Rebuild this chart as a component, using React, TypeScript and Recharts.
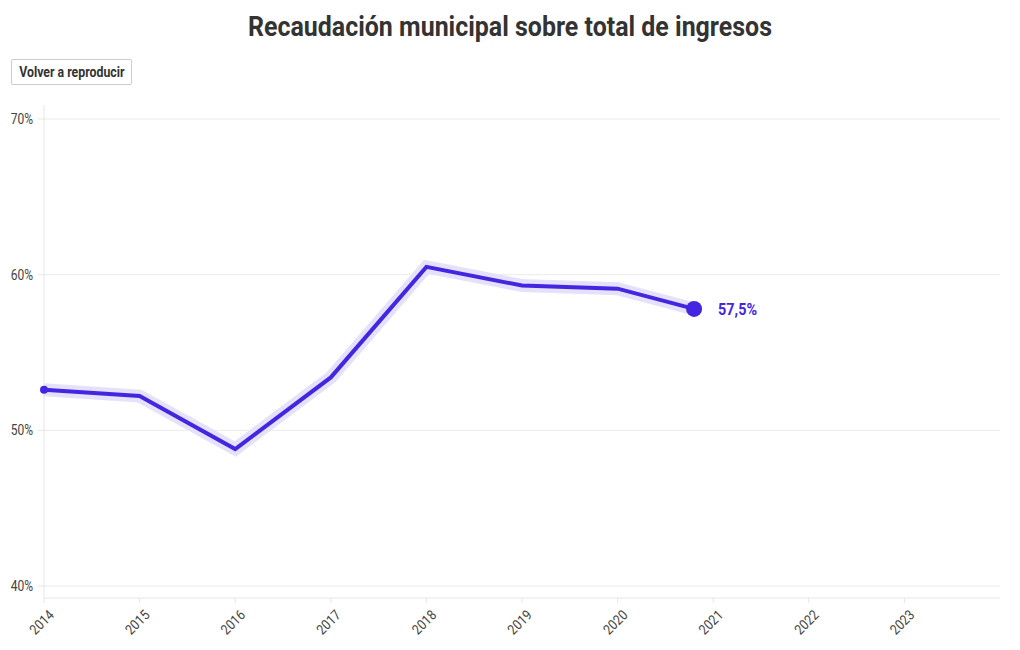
import { LineChart, Line, XAxis, YAxis, ReferenceLine } from 'recharts'

const years = [2014, 2015, 2016, 2017, 2018, 2019, 2020, 2020.8]
const shares = [52.6, 52.2, 48.8, 53.4, 60.5, 59.3, 59.1, 57.8]
const xTicks = [2014, 2015, 2016, 2017, 2018, 2019, 2020, 2021, 2022, 2023]
const yTicks = [40, 50, 60, 70]
const lastLabel = '57,5%'

const data = years.map((y, i) => ({ year: y, share: shares[i] }))

const FONT = 'Roboto, sans-serif'
const SQUEEZE = 0.86
const LINE = '#4526e0'
const HALO = '#e6e1fa'
const GRID = '#ebebeb'

function XTick(props: any) {
  const { x, y, payload } = props
  return (
    <g transform={`translate(${x + 4},${y + 4})`}>
      <text
        textAnchor="end"
        transform={`rotate(-45) scale(0.88,1)`}
        dy="0.7em"
        fill="#444"
        fontSize={14}
        fontFamily={FONT}
      >
        {payload.value}
      </text>
    </g>
  )
}

function YTick(props: any) {
  const { x, y, payload } = props
  return (
    <g transform={`translate(${x},${y})`}>
      <text textAnchor="end" transform={`scale(${SQUEEZE},1)`} dy="0.35em" fill="#444" fontSize={14} fontFamily={FONT}>
        {payload.value}%
      </text>
    </g>
  )
}

function EndDot(props: any) {
  const { cx, cy, index } = props
  if (index === 0) return <circle key="d0" cx={cx} cy={cy} r={4} fill={LINE} />
  if (index === data.length - 1)
    return (
      <g key="dlast">
        <circle cx={cx} cy={cy} r={8} fill={LINE} />
        <g transform={`translate(${cx + 24},${cy + 6})`}>
          <text transform="scale(0.9,1)" fill={LINE} fontSize={16} fontWeight="bold" fontFamily={FONT}>
            {lastLabel}
          </text>
        </g>
      </g>
    )
  return <g key={`d${index}`} />
}

export default function App() {
  return (
    <div style={{ position: 'relative', width: 1020, height: 650, margin: -8, background: '#fff' }}>
      <div
        style={{
          position: 'absolute',
          top: 11,
          left: 0,
          width: 1020,
          textAlign: 'center',
          fontFamily: FONT,
          fontWeight: 'bold',
          fontSize: 27,
          lineHeight: 'normal',
          color: '#333',
          transform: 'scaleX(0.924)',
        }}
      >
        Recaudación municipal sobre total de ingresos
      </div>
      <div
        style={{
          position: 'absolute',
          top: 59,
          left: 11,
          width: 119,
          height: 24,
          border: '1px solid #ccc',
          borderRadius: 2,
          display: 'flex',
          alignItems: 'center',
          justifyContent: 'center',
        }}
      >
        <span
          style={{
            fontFamily: FONT,
            fontWeight: 'bold',
            fontSize: 14,
            color: '#333',
            whiteSpace: 'nowrap',
            transform: 'scaleX(0.88)',
          }}
        >
          Volver a reproducir
        </span>
      </div>
      <div style={{ position: 'absolute', top: 0, left: 0 }}>
        <LineChart width={1020} height={650} data={data} margin={{ top: 105, right: 20, bottom: 0, left: 0 }}>
          {yTicks.map((t) => (
            <ReferenceLine key={t} y={t} stroke={GRID} />
          ))}
          <XAxis
            dataKey="year"
            type="number"
            domain={[2014, 2024]}
            ticks={xTicks}
            allowDecimals={false}
            height={52}
            stroke="#e6e6e6"
            tickSize={5}
            tick={<XTick />}
          />
          <YAxis
            type="number"
            domain={[40, 70]}
            ticks={yTicks}
            width={44}
            padding={{ top: 14, bottom: 12 }}
            stroke="#e6e6e6"
            tickSize={6}
            tickMargin={5}
            tick={<YTick />}
          />
          <Line
            dataKey="share"
            stroke={HALO}
            strokeWidth={13}
            dot={false}
            activeDot={false}
            isAnimationActive={false}
          />
          <Line
            dataKey="share"
            stroke={LINE}
            strokeWidth={4}
            dot={<EndDot />}
            activeDot={false}
            isAnimationActive={false}
          />
        </LineChart>
      </div>
    </div>
  )
}
